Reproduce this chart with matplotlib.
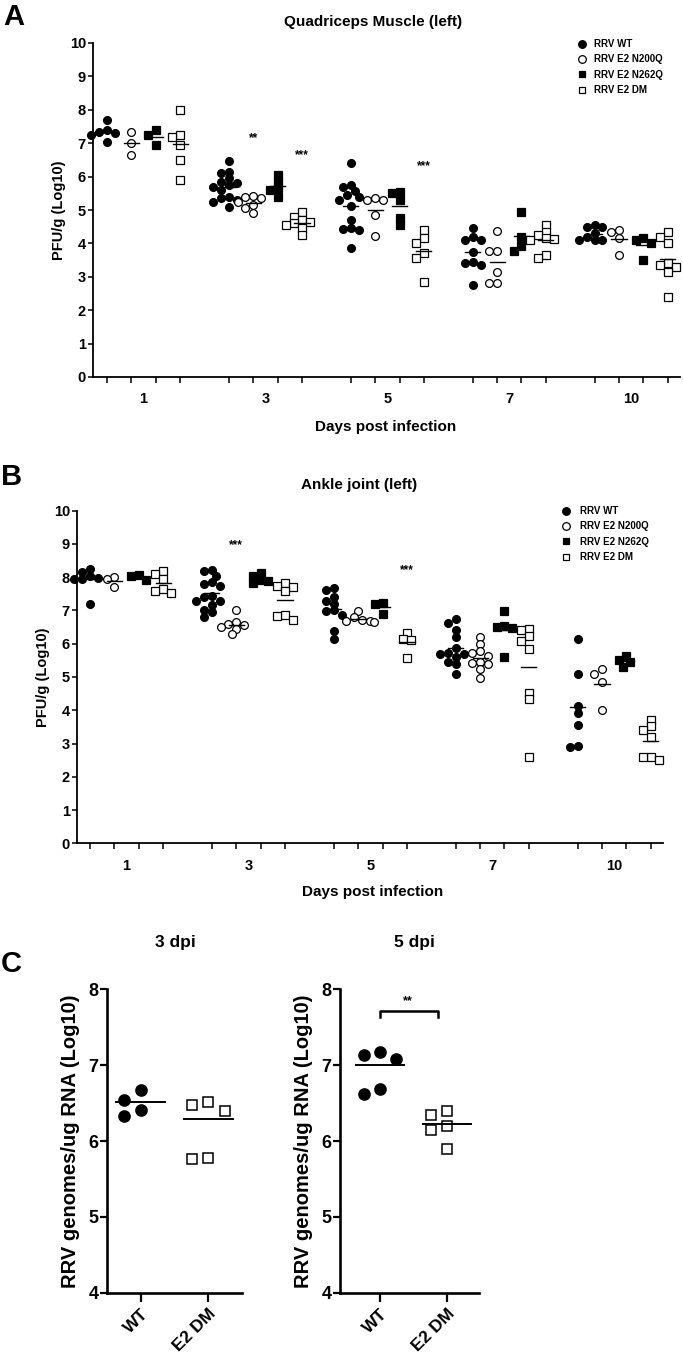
import numpy as np
import matplotlib.pyplot as plt
from matplotlib.lines import Line2D

plt.rcParams['font.family'] = ['Liberation Sans', 'DejaVu Sans']
plt.rcParams['font.weight'] = 'bold'
plt.rcParams['axes.labelweight'] = 'bold'
plt.rcParams['axes.titleweight'] = 'bold'

days = ['1', '3', '5', '7', '10']
groups = ['RRV WT', 'RRV E2 N200Q', 'RRV E2 N262Q', 'RRV E2 DM']

# Quadriceps muscle, PFU/g (log10), per day, per virus
quad_wt = [[7.7, 7.4, 7.35, 7.3, 7.25, 7.05],
           [6.48, 6.15, 6.1, 5.95, 5.85, 5.8, 5.75, 5.7, 5.6, 5.4, 5.35, 5.3, 5.25, 5.1],
           [6.4, 5.75, 5.7, 5.57, 5.45, 5.4, 5.3, 5.12, 4.7, 4.45, 4.42, 4.4, 3.85],
           [4.45, 4.2, 4.1, 4.1, 3.75, 3.45, 3.4, 3.35, 2.75],
           [4.55, 4.5, 4.5, 4.3, 4.2, 4.1, 4.1, 4.1]]
quad_n200q = [[7.33, 7.0, 6.65],
              [5.42, 5.4, 5.35, 5.25, 5.15, 5.05, 4.92],
              [5.37, 5.3, 5.3, 4.85, 4.22],
              [4.38, 3.78, 3.78, 3.15, 2.8, 2.8],
              [4.4, 4.35, 4.15, 3.65]]
quad_n262q = [[7.4, 7.25, 6.95],
              [6.05, 5.85, 5.65, 5.6, 5.4],
              [5.55, 5.5, 5.3, 4.75, 4.55],
              [4.95, 4.2, 3.92, 3.78],
              [4.15, 4.1, 4.0, 3.5]]
quad_dm = [[8.0, 7.25, 7.2, 6.95, 6.5, 5.9],
           [4.95, 4.8, 4.7, 4.65, 4.6, 4.55, 4.45, 4.25],
           [4.4, 4.15, 4.0, 3.7, 3.55, 2.85],
           [4.55, 4.35, 4.25, 4.15, 4.12, 4.1, 3.65, 3.55],
           [4.35, 4.2, 4.02, 3.4, 3.35, 3.3, 3.15, 2.4]]
quad_stars = [('**', 1, 1, 7.15), ('***', 1, 3, 6.65), ('***', 2, 3, 6.3)]

# Ankle joint, PFU/g (log10)
ankle_wt = [[8.25, 8.15, 8.05, 7.98, 7.95, 7.95, 7.2],
            [8.22, 8.2, 8.05, 7.85, 7.8, 7.75, 7.45, 7.4, 7.3, 7.3, 7.15, 7.0, 6.95, 6.8],
            [7.67, 7.63, 7.4, 7.27, 7.2, 7.0, 6.98, 6.85, 6.37, 6.15],
            [6.73, 6.63, 6.41, 6.21, 5.86, 5.72, 5.7, 5.68, 5.6, 5.45, 5.38, 5.09],
            [6.15, 5.1, 4.13, 3.93, 3.55, 2.92, 2.9]]
ankle_n200q = [[8.0, 7.95, 7.72],
               [7.0, 6.65, 6.6, 6.55, 6.5, 6.45, 6.28],
               [6.97, 6.8, 6.72, 6.68, 6.67, 6.65],
               [6.2, 6.0, 5.77, 5.72, 5.62, 5.45, 5.42, 5.4, 5.25, 4.98],
               [5.23, 5.1, 4.85, 4.0]]
ankle_n262q = [[8.07, 8.05, 7.92],
               [8.12, 8.05, 7.92, 7.88, 7.82],
               [7.22, 7.18, 6.88],
               [6.97, 6.53, 6.5, 6.48, 5.6],
               [5.62, 5.5, 5.45, 5.3]]
ankle_dm = [[8.2, 8.1, 7.95, 7.65, 7.6, 7.52],
            [7.82, 7.75, 7.7, 7.6, 6.85, 6.82, 6.7],
            [6.32, 6.15, 6.12, 5.58],
            [6.43, 6.4, 6.22, 6.08, 5.83, 4.53, 4.33, 2.58],
            [3.72, 3.52, 3.4, 3.2, 2.6, 2.58, 2.5]]
ankle_stars = [('***', 1, 1, 8.97), ('***', 2, 3, 8.22)]

# RRV genomes/ug RNA (log10)
c_groups = ['WT', 'E2 DM']
dpi3_wt = [6.67, 6.54, 6.41, 6.33]
dpi3_dm = [6.51, 6.47, 6.40, 5.77, 5.76]
dpi3_mean = [6.51, 6.29]
dpi5_wt = [7.17, 7.13, 7.08, 6.69, 6.62]
dpi5_dm = [6.39, 6.34, 6.20, 6.15, 5.90]
dpi5_mean = [7.0, 6.22]

styles = [dict(marker='o', mfc='black', mec='black'),
          dict(marker='o', mfc='white', mec='black'),
          dict(marker='s', mfc='black', mec='black'),
          dict(marker='s', mfc='white', mec='black')]


def swarm(vals, center, px_x, px_y, d):
    """spread points sideways so they do not sit on top of each other"""
    placed = []
    xs = []
    for v in vals:
        for k in [0, -1, 1, -2, 2, -3, 3, -4, 4]:
            off = k * d * 0.5
            ok = True
            for po, pv in placed:
                if (off - po) ** 2 + ((v - pv) * px_y) ** 2 < (d * 0.85) ** 2:
                    ok = False
                    break
            if ok:
                break
        placed.append((off, v))
        xs.append(center + off / px_x)
    return xs


def tissue_panel(ax, data, stars, px_x, px_y, xlim):
    for g, series in enumerate(data):
        st = styles[g]
        for k, vals in enumerate(series):
            pos = k * 5 + g
            xs = swarm(vals, pos, px_x, px_y, 7.8)
            ax.plot(xs, vals, ls='none', ms=5.6 if st['marker'] == 'o' else 5.3,
                    mew=0.9, clip_on=False, **st)
            m = np.mean(vals)
            ax.plot([pos - 0.31, pos + 0.31], [m, m], color='black', lw=1.0)
    for s, k, g, y in stars:
        ax.text(k * 5 + g, y, s, ha='center', va='center', fontsize=8.5,
                fontweight='bold')
    ax.set_xlim(*xlim)
    ax.set_ylim(0, 10)
    ax.set_yticks(range(0, 11))
    ax.set_xticks([k * 5 + 1.5 for k in range(len(days))])
    ax.set_xticklabels(days, fontweight='bold')
    ax.set_xticks([k * 5 + g for k in range(len(days)) for g in range(4)], minor=True)
    ax.tick_params(axis='x', which='major', length=0, pad=11, labelsize=10.5)
    ax.tick_params(axis='x', which='minor', length=4.3, width=1.1)
    ax.tick_params(axis='y', length=3.6, width=1.1, pad=1.5, labelsize=10.5)
    for lab in ax.get_yticklabels():
        lab.set_fontweight('bold')
    for sp in ['top', 'right']:
        ax.spines[sp].set_visible(False)
    for sp in ['left', 'bottom']:
        ax.spines[sp].set_linewidth(1.3)
    ax.set_ylabel('PFU/g (Log10)', fontsize=10.5, fontweight='bold', labelpad=3)
    handles = [Line2D([], [], ls='none', ms=5.5 if st['marker'] == 'o' else 5,
                      mew=0.9, **st) for st in styles]
    return handles


fig = plt.figure(figsize=(6.83, 13.57), dpi=100)
W, H = 683.0, 1357.0

# panel A
axA = fig.add_axes([93 / W, 1 - 377 / H, 587 / W, 334 / H])
h = tissue_panel(axA, [quad_wt, quad_n200q, quad_n262q, quad_dm], quad_stars,
                 24.4, 33.4, (-0.57, 23.5))
axA.legend(h, groups, loc='upper left', bbox_to_anchor=(0.824, 1.012),
           frameon=False, prop={'size': 7, 'weight': 'bold'}, handlelength=1.0,
           handletextpad=0.8, borderpad=0, borderaxespad=0, labelspacing=0.55)
fig.text(373 / W, 1 - 22 / H, 'Quadriceps Muscle (left)', ha='center', va='center',
         fontsize=11, fontweight='bold')
fig.text(386 / W, 1 - 427 / H, 'Days post infection', ha='center', va='center',
         fontsize=11, fontweight='bold')
fig.text(3 / W, 1 - 17 / H, 'A', ha='left', va='center', fontsize=21,
         fontweight='bold')

# panel B
axB = fig.add_axes([77 / W, 1 - 843.3 / H, 586 / W, 332.6 / H])
h = tissue_panel(axB, [ankle_wt, ankle_n200q, ankle_n262q, ankle_dm], ankle_stars,
                 24.4, 33.26, (-0.53, 23.5))
axB.legend(h, groups, loc='upper left', bbox_to_anchor=(0.827, 1.014),
           frameon=False, prop={'size': 7, 'weight': 'bold'}, handlelength=1.0,
           handletextpad=0.9, borderpad=0, borderaxespad=0, labelspacing=0.55)
fig.text(359 / W, 1 - 485 / H, 'Ankle joint (left)', ha='center', va='center',
         fontsize=11, fontweight='bold')
fig.text(373 / W, 1 - 892 / H, 'Days post infection', ha='center', va='center',
         fontsize=11, fontweight='bold')
fig.text(1 / W, 1 - 477 / H, 'B', ha='left', va='center', fontsize=21,
         fontweight='bold')


# panel C
def genome_panel(ax, wt, dm, means):
    for g, vals in enumerate([wt, dm]):
        st = styles[0] if g == 0 else styles[3]
        xs = swarm(vals, g, 67.5, 75.8, 16.5)
        ax.plot(xs, vals, ls='none', ms=8 if g == 0 else 7.3, mew=1.1,
                clip_on=False, **st)
        ax.plot([g - 0.36, g + 0.36], [means[g], means[g]], color='black', lw=1.4)
    ax.set_ylim(4, 8)
    ax.set_yticks([4, 5, 6, 7, 8])
    ax.set_xticks([0, 1])
    ax.set_xticklabels(c_groups, rotation=45, ha='right', rotation_mode='anchor',
                       fontweight='bold')
    for lab in ax.get_yticklabels():
        lab.set_fontweight('bold')
    ax.tick_params(axis='y', length=5, width=1.6, pad=1, labelsize=13)
    ax.tick_params(axis='x', length=6.5, width=1.6, pad=3, labelsize=12.5)
    for sp in ['top', 'right']:
        ax.spines[sp].set_visible(False)
    for sp in ['left', 'bottom']:
        ax.spines[sp].set_linewidth(1.9)
    ax.set_ylabel('RRV genomes/ug RNA (Log10)', fontsize=14.5, fontweight='bold',
                  labelpad=6)


axC1 = fig.add_axes([107 / W, 1 - 1292.7 / H, 135 / W, 303.4 / H])
genome_panel(axC1, dpi3_wt, dpi3_dm, dpi3_mean)
axC1.set_xlim(-0.5, 1.5)
fig.text(175 / W, 1 - 943 / H, '3 dpi', ha='center', va='center', fontsize=12.5,
         fontweight='bold')

axC2 = fig.add_axes([340 / W, 1 - 1292.7 / H, 139 / W, 303.4 / H])
genome_panel(axC2, dpi5_wt, dpi5_dm, dpi5_mean)
axC2.set_xlim(-0.6, 1.48)
axC2.plot([0.0, 0.0, 0.87, 0.87], [7.63, 7.71, 7.71, 7.63], color='black', lw=1.8)
axC2.text(0.42, 7.84, '**', ha='center', va='center', fontsize=9, fontweight='bold')
fig.text(414 / W, 1 - 943 / H, '5 dpi', ha='center', va='center', fontsize=12.5,
         fontweight='bold')
fig.text(1 / W, 1 - 964 / H, 'C', ha='left', va='center', fontsize=21,
         fontweight='bold')

fig.savefig('out.png', dpi=100)
